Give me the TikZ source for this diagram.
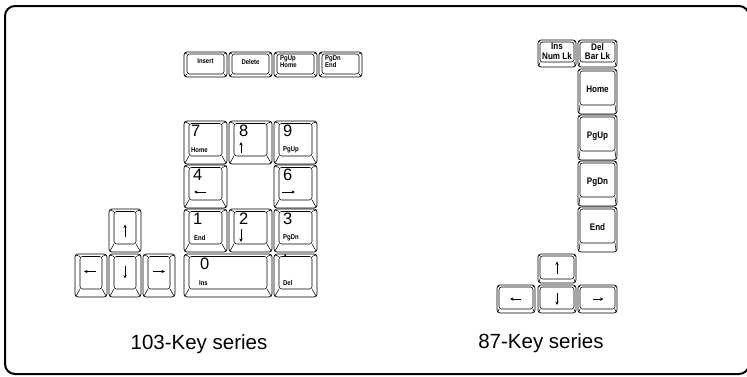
\documentclass[tikz,border=0pt]{standalone}
\usepackage{fontspec}
\setmainfont{Liberation Sans}
\newfontfamily\keyfont[FakeStretch=0.85]{Liberation Sans}
\usetikzlibrary{arrows.meta}
\tikzset{
    frame-box/.style = {draw, line width=2pt, rounded corners=10pt},
    key-outer/.style = {draw, rectangle, rounded corners=3pt, line width=0.7pt, inner sep=0pt, outer sep=0pt},
    key-inner/.style = {draw, rounded corners=2.5pt, line width=0.55pt},
    key-line/.style = {line width=0.55pt},
    key-digit/.style = {font=\fontsize{16.5}{16.5}\selectfont, inner sep=0pt, anchor=north west},
    key-label/.style = {font=\keyfont\bfseries\fontsize{7}{7.5}\selectfont, inner sep=0pt},
    big-label/.style = {font=\keyfont\bfseries\fontsize{9.5}{10.5}\selectfont, inner sep=0pt, align=center},
    key-arrow/.style = {-{Stealth[length=3.5pt,width=3.2pt]}, line width=0.8pt},
    series-label/.style = {font=\fontsize{20.5}{24}\selectfont, inner sep=0pt},
}
% keycap: name, x, y, width, height, side inset, top inset, bottom inset
\newcommand{\keycap}[8]{%
  \node[key-outer, anchor=north west, minimum width=#4, minimum height=#5] (#1) at (#2,#3) {};
  \coordinate (#1-a) at ([xshift=#6pt,yshift=-#7pt]#1.north west);
  \coordinate (#1-b) at ([xshift=-#6pt,yshift=-#7pt]#1.north east);
  \coordinate (#1-c) at ([xshift=-#6pt,yshift=#8pt]#1.south east);
  \coordinate (#1-d) at ([xshift=#6pt,yshift=#8pt]#1.south west);
  \draw[key-inner] (#1-a) rectangle (#1-c);
  \draw[key-line] ([shift={(0.9pt,-0.9pt)}]#1.north west) -- (#1-a)
                  ([shift={(-0.9pt,-0.9pt)}]#1.north east) -- (#1-b)
                  ([shift={(-0.9pt,0.9pt)}]#1.south east) -- (#1-c)
                  ([shift={(0.9pt,0.9pt)}]#1.south west) -- (#1-d);
}
\begin{document}
\begin{tikzpicture}[x=1pt, y=-1pt]
\useasboundingbox (0,0) rectangle (747,376);
\clip (0,0) rectangle (747,376);
\draw[frame-box] (5,6) rectangle (749,374);

% 103-Key series: edit keys
\keycap{kins}{184}{52}{43}{25}{3}{2}{3}
\keycap{kdel}{229}{52}{43}{25}{3}{2}{3}
\keycap{kpgup}{274}{52}{43}{25}{3}{2}{3}
\keycap{kpgdn}{319}{52}{43}{25}{3}{2}{3}
\node[key-label] (tins) at ([yshift=3pt]kins.center) {Insert};
\node[key-label] (tdel) at ([yshift=3pt]kdel.center) {Delete};
\node[key-label, align=left, anchor=west] (tpgup) at ([xshift=6pt,yshift=3pt]kpgup.west) {PgUp\\Home};
\node[key-label, align=left, anchor=west] (tpgdn) at ([xshift=6pt,yshift=3pt]kpgdn.west) {PgDn\\End};

% 103-Key series: numeric pad
\keycap{k7}{184}{121}{43}{43}{5}{2.5}{8}
\keycap{k8}{229}{121}{43}{43}{5}{2.5}{8}
\keycap{k9}{274}{121}{43}{43}{5}{2.5}{8}
\keycap{k4}{184}{165}{43}{43}{5}{2.5}{8}
\keycap{k6}{274}{165}{43}{43}{5}{2.5}{8}
\keycap{k1}{184}{209}{43}{43}{5}{2.5}{8}
\keycap{k2}{229}{209}{43}{43}{5}{2.5}{8}
\keycap{k3}{274}{209}{43}{43}{5}{2.5}{8}
\keycap{k0}{184}{254}{88}{43}{5}{2.5}{8}
\keycap{kdot}{274}{254}{43}{43}{5}{2.5}{8}

\node[key-digit] (d7) at ([xshift=7pt,yshift=-4pt]k7.north west) {7};
\node[key-digit] (d8) at ([xshift=10pt,yshift=-4pt]k8.north west) {8};
\node[key-digit] (d9) at ([xshift=9pt,yshift=-4pt]k9.north west) {9};
\node[key-digit] (d4) at ([xshift=9pt,yshift=-4pt]k4.north west) {4};
\node[key-digit] (d6) at ([xshift=9pt,yshift=-4pt]k6.north west) {6};
\node[key-digit] (d1) at ([xshift=9pt,yshift=-4pt]k1.north west) {1};
\node[key-digit] (d2) at ([xshift=10pt,yshift=-4pt]k2.north west) {2};
\node[key-digit] (d3) at ([xshift=9pt,yshift=-4pt]k3.north west) {3};
\node[key-digit] (d0) at ([xshift=16pt,yshift=-4pt]k0.north west) {0};
\node[key-digit] (ddot) at ([xshift=9pt,yshift=-1pt]kdot.north west) {.};

\node[key-label, anchor=west] (s7) at ([xshift=7pt,yshift=-29pt]k7.north west) {Home};
\node[key-label, anchor=west] (s9) at ([xshift=9pt,yshift=-29pt]k9.north west) {PgUp};
\node[key-label, anchor=west] (s1) at ([xshift=10pt,yshift=-29pt]k1.north west) {End};
\node[key-label, anchor=west] (s3) at ([xshift=9pt,yshift=-29pt]k3.north west) {PgDn};
\node[key-label, anchor=west] (s0) at ([xshift=15pt,yshift=-29pt]k0.north west) {Ins};
\node[key-label, anchor=west] (sdot) at ([xshift=9pt,yshift=-29pt]kdot.north west) {Del};

\draw[key-arrow] ([xshift=12pt,yshift=-32pt]k8.north west) -- ([xshift=12pt,yshift=-21pt]k8.north west);
\draw[key-arrow] ([xshift=22pt,yshift=-27pt]k4.north west) -- ([xshift=10pt,yshift=-27pt]k4.north west);
\draw[key-arrow] ([xshift=8pt,yshift=-27pt]k6.north west) -- ([xshift=21pt,yshift=-27pt]k6.north west);
\draw[key-arrow] ([xshift=12pt,yshift=-20pt]k2.north west) -- ([xshift=12pt,yshift=-33pt]k2.north west);

% 103-Key series: cursor keys
\keycap{kup}{109}{209}{32}{43}{5}{2.5}{8}
\keycap{kleft}{75}{254}{32}{43}{5}{2.5}{8}
\keycap{kdown}{109}{254}{32}{43}{5}{2.5}{8}
\keycap{kright}{143}{254}{32}{43}{5}{2.5}{8}
\draw[key-arrow] ([yshift=-6pt]kup.center) -- ([yshift=6pt]kup.center);
\draw[key-arrow] ([xshift=5pt,yshift=4pt]kleft.center) -- ([xshift=-7pt,yshift=4pt]kleft.center);
\draw[key-arrow] ([yshift=10pt]kdown.center) -- ([yshift=-3pt]kdown.center);
\draw[key-arrow] ([xshift=-6pt,yshift=4pt]kright.center) -- ([xshift=6pt,yshift=4pt]kright.center);

\node[series-label] (cap103) at (199,344) {103-Key series};

% 87-Key series
\keycap{ains}{538}{40}{38}{27}{2}{2}{5}
\keycap{adel}{578}{40}{39}{27}{2}{2}{5}
\keycap{ahome}{578}{69}{39}{45}{2}{2}{9}
\keycap{apgup}{578}{115}{39}{45}{2}{2}{9}
\keycap{apgdn}{578}{161}{39}{45}{2}{2}{9}
\keycap{aend}{578}{207}{39}{45}{2}{2}{9}
\keycap{aup}{538}{254}{38}{29}{2}{2}{4}
\keycap{aleft}{497}{285}{38}{28}{2}{2}{4}
\keycap{adown}{538}{285}{38}{28}{2}{2}{4}
\keycap{aright}{578}{285}{39}{28}{2}{2}{4}

\node[big-label] (tains) at ([yshift=2pt]ains.center) {Ins\\[-1pt]Num Lk};
\node[big-label] (tadel) at ([yshift=2pt]adel.center) {Del\\[-1pt]Bar Lk};
\node[big-label] (tahome) at ([yshift=-20pt]ahome.north) {Home};
\node[big-label] (tapgup) at ([yshift=-21pt]apgup.north) {PgUp};
\node[big-label] (tapgdn) at ([yshift=-21pt]apgdn.north) {PgDn};
\node[big-label] (taend) at ([yshift=-20pt]aend.north) {End};

\draw[key-arrow] ([yshift=-5pt]aup.center) -- ([yshift=7pt]aup.center);
\draw[key-arrow] ([xshift=5pt]aleft.center) -- ([xshift=-6pt]aleft.center);
\draw[key-arrow] ([yshift=6pt]adown.center) -- ([yshift=-6pt]adown.center);
\draw[key-arrow] ([xshift=-5pt]aright.center) -- ([xshift=6pt]aright.center);

\node[series-label] (cap87) at (541,343) {87-Key series};
\end{tikzpicture}
\end{document}
